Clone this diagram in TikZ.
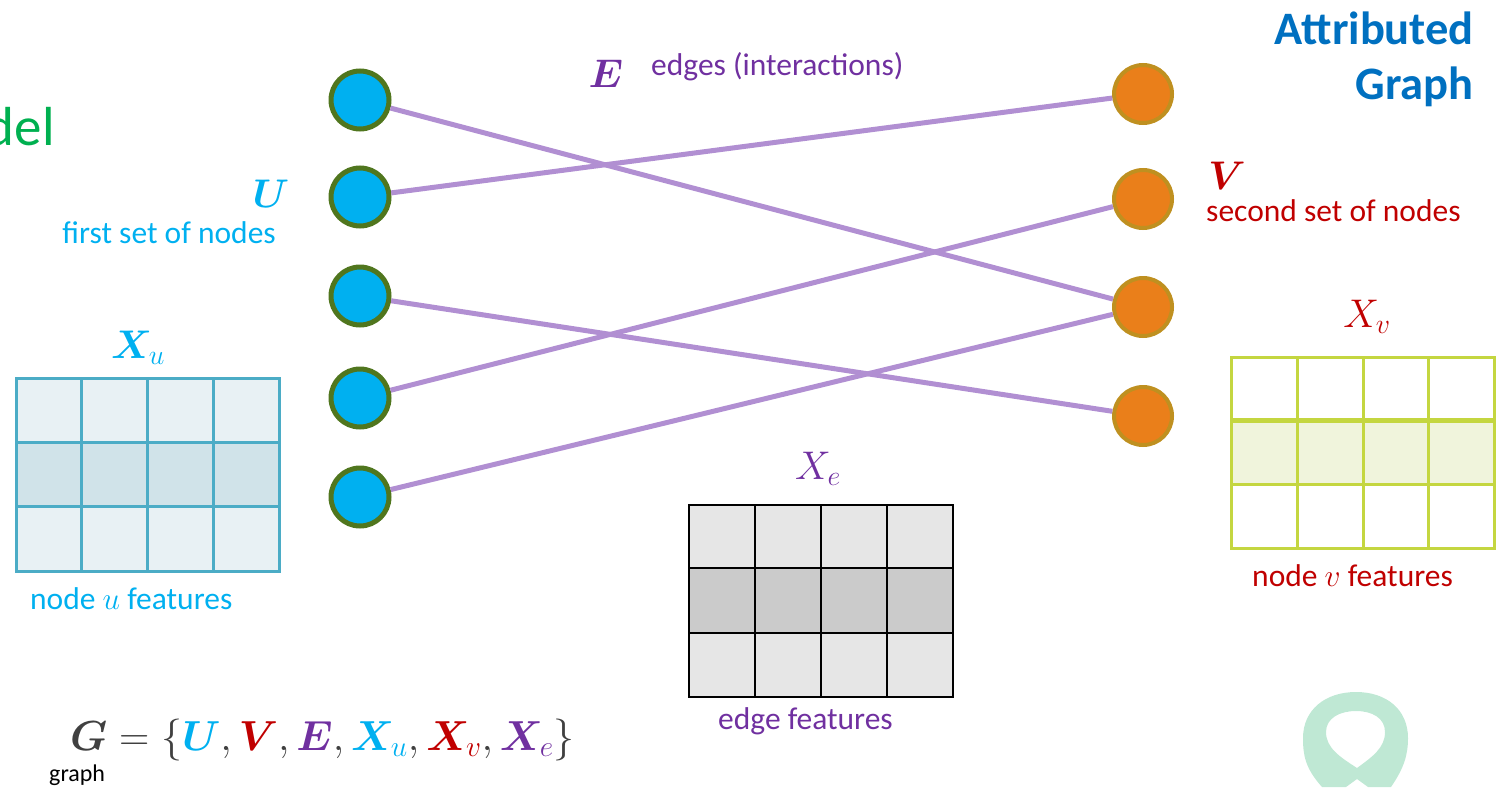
\RequirePackage{fix-cm}
\documentclass[tikz,border=0pt]{standalone}
\usepackage{bm}
\usepackage{fontspec}
\setmainfont{Carlito}
\definecolor{ublue}{RGB}{0,176,240}
\definecolor{ugreen}{RGB}{80,118,30}
\definecolor{vorange}{RGB}{234,127,26}
\definecolor{vgold}{RGB}{191,144,32}
\definecolor{epurple}{RGB}{177,143,210}
\definecolor{tblue}{RGB}{0,176,240}
\definecolor{tred}{RGB}{192,0,0}
\definecolor{tpurple}{RGB}{112,48,160}
\definecolor{dblue}{RGB}{0,112,192}
\definecolor{tgreen}{RGB}{0,176,80}
\definecolor{ggray}{RGB}{64,64,64}
\definecolor{mint}{RGB}{191,232,212}
\definecolor{xuline}{RGB}{75,172,198}
\definecolor{xufill}{RGB}{232,241,244}
\definecolor{xumid}{RGB}{208,227,233}
\definecolor{xvline}{RGB}{196,214,64}
\definecolor{xvmid}{RGB}{240,244,220}
\definecolor{xefill}{RGB}{230,230,230}
\definecolor{xemid}{RGB}{203,203,203}
\begin{document}
\begin{tikzpicture}[x=1pt,y=-1pt,
  lbl/.style={font=\fontsize{31.5}{38}\selectfont, inner sep=0pt},
  sym/.style={font=\fontsize{40}{48}\selectfont, inner sep=0pt},
  unode/.style={circle, minimum size=58pt, inner sep=0pt, fill=ublue, draw=ugreen, line width=5pt},
  vnode/.style={circle, minimum size=58pt, inner sep=0pt, fill=vorange, draw=vgold, line width=4pt},
  edgeline/.style={draw=epurple, line width=5pt}]
\useasboundingbox (0,0) rectangle (1504,787);

% nodes
\node[unode] (u1) at (360,100) {};
\node[unode] (u2) at (360,197) {};
\node[unode] (u3) at (360,296) {};
\node[unode] (u4) at (360,398) {};
\node[unode] (u5) at (360,497) {};
\node[vnode] (v1) at (1143,94) {};
\node[vnode] (v2) at (1143,199) {};
\node[vnode] (v3) at (1143,307) {};
\node[vnode] (v4) at (1143,416) {};

% edges
\draw[edgeline] (u1) -- (v3);
\draw[edgeline] (u2) -- (v1);
\draw[edgeline] (u3) -- (v4);
\draw[edgeline] (u4) -- (v2);
\draw[edgeline] (u5) -- (v3);

% matrix X_u
\fill[xufill] (16,378) rectangle (279,571);
\fill[xumid] (16,442.3) rectangle (279,506.7);
\draw[xuline, line width=3pt] (16,378) rectangle (279,571);
\foreach \x in {81.75,147.5,213.25} \draw[xuline, line width=3pt] (\x,378) -- (\x,571);
\foreach \y in {442.3,506.7} \draw[xuline, line width=3pt] (16,\y) -- (279,\y);

% matrix X_v
\fill[xvmid] (1231,420) rectangle (1494,484);
\draw[xvline, line width=3pt] (1231,357) rectangle (1494,548);
\foreach \x in {1297,1363,1428} \draw[xvline, line width=3pt] (\x,357) -- (\x,548);
\draw[xvline, line width=5pt] (1231,420) -- (1494,420);
\draw[xvline, line width=3pt] (1231,484) -- (1494,484);

% matrix X_e
\fill[xefill] (689,505) rectangle (953,697);
\fill[xemid] (689,568) rectangle (953,633);
\draw[black, line width=2.5pt] (689,505) rectangle (953,697);
\foreach \x in {755,821,887} \draw[black, line width=2.5pt] (\x,505) -- (\x,697);
\foreach \y in {568,633} \draw[black, line width=2.5pt] (689,\y) -- (953,\y);

% mint loop
\fill[mint, even odd rule] (1322,787) .. controls (1305,768) and (1303,755) .. (1303,738)
  .. controls (1303,710) and (1325,692) .. (1356,692)
  .. controls (1387,692) and (1408,710) .. (1408,738)
  .. controls (1408,755) and (1404,768) .. (1391,787) -- (1368,787) -- (1357,779) -- (1346,787) -- cycle
  (1357,768) .. controls (1340,757) and (1326,748) .. (1326,732)
  .. controls (1326,718) and (1340,711) .. (1356,711)
  .. controls (1372,711) and (1385,718) .. (1385,732)
  .. controls (1385,748) and (1372,757) .. (1357,768) -- cycle;

% texts
\node[inner sep=0pt, anchor=base east, text=tgreen, font=\fontsize{55}{66}\selectfont] (model) at (55,145) {del};
\node[sym, anchor=base, text=tblue] (ulab) at (271,207) {$\bm{U}$};
\node[lbl, anchor=base east, text=tblue] (utxt) at (276,243) {first set of nodes};
\node[sym, anchor=base, text=tred] (vlab) at (1227,189) {$\bm{V}$};
\node[lbl, anchor=base west, text=tred] (vtxt) at (1206,221) {second set of nodes};
\node[sym, anchor=base, text=tpurple] (elab) at (606,87) {$\bm{E}$};
\node[lbl, anchor=base west, text=tpurple] (etxt) at (651,75) {edges (interactions)};
\node[inner sep=0pt, anchor=base east, text=dblue, font=\fontsize{46.5}{55}\selectfont\bfseries] (title1) at (1474,44) {Attributed};
\node[inner sep=0pt, anchor=base east, text=dblue, font=\fontsize{46.5}{55}\selectfont\bfseries] (title2) at (1474,99) {Graph};
\node[sym, anchor=base, text=tblue] (xulab) at (138,358) {$\bm{X}_{u}$};
\node[lbl, anchor=base west, text=tblue] (xutxt) at (30,609) {node $u$ features};
\node[sym, anchor=base, text=tred] (xvlab) at (1367,327) {$X_{v}$};
\node[lbl, anchor=base west, text=tred] (xvtxt) at (1252,586) {node $v$ features};
\node[sym, anchor=base, text=tpurple] (xelab) at (818,479) {$X_{e}$};
\node[lbl, anchor=base west, text=tpurple] (xetxt) at (718,729) {edge features};
\node[inner sep=0pt, anchor=base west, text=ggray, font=\fontsize{42}{50}\selectfont] (formula) at (70,750)
  {$\bm{G}=\{\textcolor{tblue}{\bm{U}},\textcolor{tred}{\bm{V}},\textcolor{tpurple}{\bm{E}},\textcolor{tblue}{\bm{X}_{u}},\textcolor{tred}{\bm{X}_{v}},\textcolor{tpurple}{\bm{X}_{e}}\}$};
\node[inner sep=0pt, anchor=base west, text=black, font=\fontsize{24}{29}\selectfont] (graphtxt) at (49,781) {graph};
\end{tikzpicture}
\end{document}
